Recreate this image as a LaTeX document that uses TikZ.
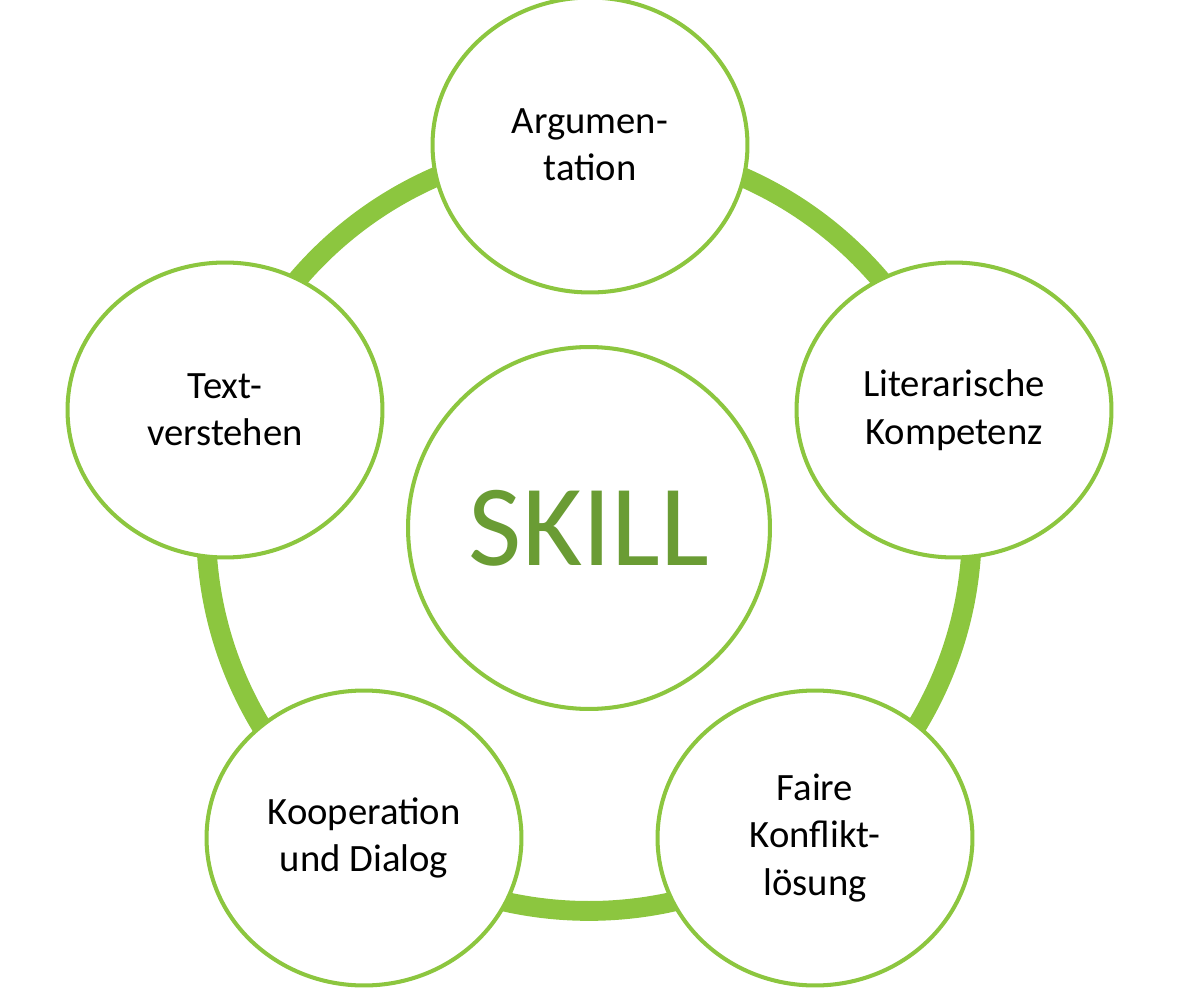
\documentclass[tikz,border=0pt]{standalone}
\usepackage{fontspec}
\setmainfont{Carlito}
\definecolor{ringgreen}{HTML}{8CC63F}
\definecolor{skillgreen}{HTML}{6A9C34}
\tikzset{
  skillbox/.style={draw=ringgreen, fill=white, line width=2.3pt, ellipse, minimum width=6.3cm, minimum height=5.9cm, align=center, font=\fontsize{22}{27}\selectfont},
}
\usetikzlibrary{shapes.geometric}
\begin{document}
\begin{tikzpicture}[x=0.02cm, y=-0.02cm]
	\useasboundingbox (0,0) rectangle (1191,997);
	\coordinate (mid) at (589,528);
	% ring behind the ellipses
	\draw[ringgreen, line width=11.3pt] (mid) circle [radius=7.66cm];
	\node[skillbox] (arg) at (590,145) {Argumen-\\tation};
	\node[skillbox] (lit) at (954,410) {Literarische\\Kompetenz};
	\node[skillbox] (kon) at (815,838) {Faire\\Konflikt-\\lösung};
	\node[skillbox] (koop) at (364,838) {Kooperation\\und Dialog};
	\node[skillbox] (text) at (225,410) {Text-\\verstehen};
	\node[draw=ringgreen, fill=white, line width=2.3pt, circle, minimum size=7.24cm, text=skillgreen, font=\fontsize{66}{70}\selectfont] (skill) at (mid) {SKILL};
\end{tikzpicture}
\end{document}
